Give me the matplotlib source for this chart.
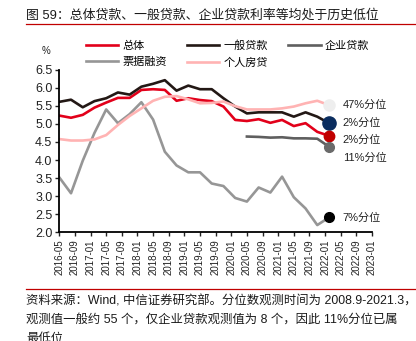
import matplotlib
matplotlib.use("Agg")
import matplotlib.pyplot as plt
from matplotlib.lines import Line2D

plt.rcParams['font.family'] = ['Liberation Sans', 'Noto Sans CJK SC']
plt.rcParams['axes.unicode_minus'] = False

# 季度数据 2016Q2 - 2022Q1 (%)
dates = ["2016-06", "2016-09", "2016-12", "2017-03", "2017-06", "2017-09",
         "2017-12", "2018-03", "2018-06", "2018-09", "2018-12", "2019-03",
         "2019-06", "2019-09", "2019-12", "2020-03", "2020-06", "2020-09",
         "2020-12", "2021-03", "2021-06", "2021-09", "2021-12", "2022-03"]
total = [5.23, 5.17, 5.25, 5.45, 5.59, 5.72, 5.72, 5.94, 5.96, 5.94, 5.64, 5.71,
         5.66, 5.63, 5.48, 5.11, 5.08, 5.13, 5.03, 5.11, 4.94, 5.02, 4.78, 4.67]
general = [5.61, 5.67, 5.46, 5.63, 5.71, 5.87, 5.81, 6.03, 6.11, 6.21, 5.92, 6.06,
           5.96, 5.96, 5.71, 5.48, 5.29, 5.32, 5.32, 5.32, 5.20, 5.32, 5.20, 5.02]
bill = [3.52, 3.08, 3.98, 4.75, 5.40, 5.02, 5.27, 5.60, 5.12, 4.23, 3.85, 3.66,
        3.66, 3.35, 3.28, 2.95, 2.85, 3.24, 3.10, 3.54, 2.97, 2.66, 2.20, 2.41]
mortgage = [4.58, 4.54, 4.54, 4.57, 4.69, 4.97, 5.22, 5.43, 5.64, 5.75, 5.77, 5.68,
            5.57, 5.58, 5.62, 5.49, 5.40, 5.40, 5.40, 5.43, 5.48, 5.57, 5.64, 5.52]
# 企业贷款只有 2020-06 之后的 8 个观测值
corp_dates = dates[-8:]
corp = [4.65, 4.64, 4.62, 4.63, 4.60, 4.60, 4.59, 4.37]

tick_labels = ["2016-05", "2016-09", "2017-01", "2017-05", "2017-09", "2018-01",
               "2018-05", "2018-09", "2019-01", "2019-05", "2019-09", "2020-01",
               "2020-05", "2020-09", "2021-01", "2021-05", "2021-09", "2022-01",
               "2022-05", "2022-09", "2023-01"]
pct_labels = ["47%分位", "2%分位", "2%分位", "11%分位", "7%分位"]


def to_month(s, base="2016-05"):
    y, m = map(int, s.split("-"))
    by, bm = map(int, base.split("-"))
    return (y - by) * 12 + (m - bm)


x = [to_month(d) - 1 for d in dates]
x_corp = [to_month(d) - 1 for d in corp_dates]
xt = [to_month(t) for t in tick_labels]

fig = plt.figure(figsize=(4.16, 3.41), dpi=100)
ax = fig.add_axes([0.1425, 0.3188, 0.7517, 0.4768])

c_total, c_gen, c_corp, c_bill, c_mort = "#e2001a", "#231815", "#5f5f5f", "#969696", "#ffb3b3"
lw = 1.9
ax.plot(x, total, color=c_total, lw=lw, label="总体")
ax.plot(x, general, color=c_gen, lw=lw, label="一般贷款")
ax.plot(x_corp, corp, color=c_corp, lw=lw, label="企业贷款")
ax.plot(x, bill, color=c_bill, lw=lw, label="票据融资")
ax.plot(x, mortgage, color=c_mort, lw=lw, label="个人房贷")

# 末端圆点 + 分位标注
ends = [(mortgage[-1], "#eeeeee", 8, 0),
        (general[-1], "#0b2d5f", 9.5, 0),
        (total[-1], "#c00000", 7.5, -3),
        (corp[-1], "#6a6a6a", 7, -8),
        (bill[-1], "#000000", 7, 0)]
for (yv, col, ms, dy), lab in zip(ends, pct_labels):
    ax.plot(x[-1], yv, "o", color=col, ms=ms, zorder=5, clip_on=False)
    ax.annotate(lab, (x[-1], yv), xytext=(10, dy), textcoords="offset points",
                va="center", ha="left", fontsize=8, color="#222222")

ax.set_xlim(0, 80)
ax.set_ylim(2.0, 6.5)
ax.set_xticks(xt)
ax.set_xticklabels(tick_labels, rotation=90, fontsize=7)
ax.set_yticks([2.0 + 0.5 * i for i in range(10)])
ax.set_yticklabels([f"{2.0 + 0.5 * i:.1f}" for i in range(10)], fontsize=9)
for s in ["top", "right"]:
    ax.spines[s].set_visible(False)
for s in ["left", "bottom"]:
    ax.spines[s].set_linewidth(1.3)
ax.tick_params(direction="out", length=3, width=1, pad=2, colors="#222222")

# 图例两行：按列顺序排列
h, l = ax.get_legend_handles_labels()
order = [0, 3, 1, 4, 2]
fig.legend([h[i] for i in order], [l[i] for i in order], ncol=3, frameon=False,
           loc="upper left", bbox_to_anchor=(86 / 416, 1 - 40 / 341),
           fontsize=8, handlelength=2.9, handletextpad=0.4, columnspacing=1.8,
           labelspacing=0.6, borderpad=0, borderaxespad=0)

fig.text(46 / 416, 1 - 51 / 341, "%", fontsize=7, ha="center", va="center", color="#222222")

fig.text(26 / 416, 1 - 15 / 341, "图 59：总体贷款、一般贷款、企业贷款利率等均处于历史低位",
         fontsize=9.3, ha="left", va="center", color="#1a1a1a")
fig.add_artist(Line2D([26 / 416, 1], [1 - 24 / 341] * 2, color="#c00000", lw=0.9))
fig.add_artist(Line2D([26 / 416, 1], [1 - 288.5 / 341] * 2, color="#c00000", lw=0.9))

note = ["资料来源：Wind, 中信证券研究部。分位数观测时间为 2008.9-2021.3，",
        "观测值一般约 55 个，仅企业贷款观测值为 8 个，因此 11%分位已属",
        "最低位"]
for i, line in enumerate(note):
    fig.text(26 / 416, 1 - (301 + 19 * i) / 341, line, fontsize=8.9,
             ha="left", va="center", color="#1a1a1a")

fig.savefig("out.png", dpi=100)
